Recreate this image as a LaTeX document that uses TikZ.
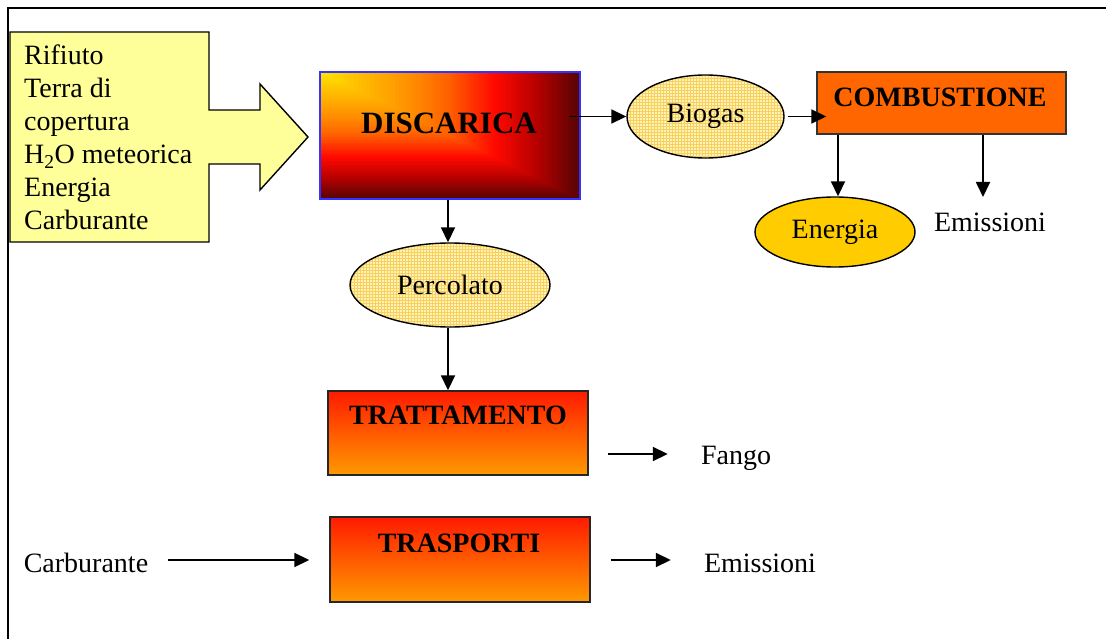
\documentclass[tikz,border=0pt]{standalone}
\usepackage{fontspec}
\setmainfont{Liberation Serif}
\usetikzlibrary{arrows.meta,patterns,calc,shapes.geometric}
\definecolor{ca}{HTML}{FFE800}
\definecolor{cb}{HTML}{FFCC00}
\definecolor{cc}{HTML}{FF9000}
\definecolor{cd}{HTML}{FF6000}
\definecolor{ce}{HTML}{FF0800}
\definecolor{cf}{HTML}{B00000}
\definecolor{cg}{HTML}{580404}
\definecolor{arrowyellow}{HTML}{FFFF99}
\definecolor{paleyellow}{HTML}{FFF3B8}
\definecolor{gridyellow}{HTML}{F8D060}
\definecolor{gold}{HTML}{FFCC00}
\definecolor{combo}{HTML}{FF6600}
\definecolor{gtop}{HTML}{FF1A00}
\definecolor{gbot}{HTML}{FF9A00}
\definecolor{discblue}{HTML}{3333FF}
\newcommand\discseg[4]{%
  \foreach \kk in {16,...,0}{%
    \pgfmathsetmacro\myt{#1+(#2-#1)*\kk/16}%
    \pgfmathtruncatemacro\myp{100*\kk/16}%
    \fill[#4!\myp!#3] (320,72) rectangle ({320+260*\myt},{72+127*\myt});
  }}
\begin{document}
\begin{tikzpicture}[x=1pt,y=-1pt,
  txt/.style={font=\fontsize{28}{33}\selectfont, inner sep=0pt},
  btxt/.style={font=\fontsize{28}{33}\selectfont\bfseries, inner sep=0pt},
  ell/.style={ellipse, draw=black, line width=1.4pt, inner sep=0pt, font=\fontsize{28}{33}\selectfont},
  patell/.style={ell, preaction={fill=paleyellow}, pattern=grid, pattern color=gridyellow},
  gradbox/.style={rectangle, draw=black!85, line width=1.4pt, top color=gtop, bottom color=gbot, inner sep=0pt},
  arr/.style={line width=1.8pt, -{Triangle[length=15pt,width=14pt]}},
]
\useasboundingbox (0,0) rectangle (1106,639);
\fill[white] (0,0) rectangle (1106,639);
% frame
\draw[line width=2.2pt] (8,639) -- (8,8) -- (1106,8);

% yellow input arrow
\draw[fill=arrowyellow, line width=1.4pt, line join=miter]
  (10,32) -- (209,32) -- (209,110) -- (260,110) -- (260,84) -- (308,137)
  -- (260,190) -- (260,164) -- (209,164) -- (209,242) -- (10,242) -- cycle;
\node[txt, anchor=base west] (l1) at (24,65) {Rifiuto};
\node[txt, anchor=base west] (l2) at (24,98) {Terra di};
\node[txt, anchor=base west] (l3) at (24,131) {copertura};
\node[txt, anchor=base west] (l4) at (24,164) {H\textsubscript{2}O meteorica};
\node[txt, anchor=base west] (l5) at (24,197) {Energia};
\node[txt, anchor=base west] (l6) at (24,230) {Carburante};

% DISCARICA (rectangular gradient from the top-left corner)
\discseg{0.85}{1.0}{cf}{cg}
\discseg{0.68}{0.85}{ce}{cf}
\discseg{0.5}{0.68}{cd}{ce}
\discseg{0.35}{0.5}{cc}{cd}
\discseg{0.1}{0.35}{cb}{cc}
\discseg{0.0}{0.1}{ca}{cb}
\node[rectangle, draw=discblue, line width=1.6pt, minimum width=260pt, minimum height=127pt, inner sep=0pt] (disc) at (450,135.5) {};
\node[font=\fontsize{31}{36}\selectfont\bfseries, inner sep=0pt] (disct) at (449,123) {DISCARICA};

% Biogas
\node[patell, minimum width=157pt, minimum height=83pt] (bio) at (705.5,116.5) {Biogas};

% COMBUSTIONE
\node[rectangle, fill=combo, draw=black!80, line width=1.4pt, minimum width=249pt, minimum height=62pt, inner sep=0pt] (comb) at (941.5,103) {};
\node[btxt] (combt) at (940,97) {COMBUSTIONE};

% Energia
\node[ell, fill=gold, minimum width=160pt, minimum height=70pt] (ene) at (835,232) {Energia};
\node[txt] (emi1) at (990,222) {Emissioni};
\coordinate (emitip) at (983,197);

% Percolato
\node[patell, minimum width=200pt, minimum height=84pt] (perc) at (450,285) {Percolato};

% TRATTAMENTO
\node[gradbox, minimum width=260pt, minimum height=84pt] (tratt) at (458,433) {};
\node[btxt] (trattt) at (458,415) {TRATTAMENTO};
\node[txt] (fango) at (736,458) {Fango};

% TRASPORTI
\node[gradbox, minimum width=260pt, minimum height=85pt] (trasp) at (460,559.5) {};
\node[btxt] (traspt) at (459,543) {TRASPORTI};
\node[txt] (carb) at (86,563) {Carburante};
\node[txt] (emi2) at (760,563) {Emissioni};

% connectors
\draw[arr] ([xshift=-12pt]disc.east |- bio.west) -- (bio.west);
\draw[arr] ([xshift=3pt]bio.east) -- ([xshift=10pt]comb.west |- bio.east);
\draw[arr] ([xshift=3pt]ene.north |- comb.south) -- ([xshift=3pt]ene.north);
\draw[arr] (emitip |- comb.south) -- (emitip);
\draw[arr] ([xshift=-2pt]perc.north |- disc.south) -- ([xshift=-2pt]perc.north);
\draw[arr] ([xshift=-2pt]perc.south) -- ([xshift=-2pt]perc.south |- tratt.north);
\draw[arr] ([xshift=19pt]tratt.east |- 0,454) -- ([xshift=-33pt]fango.west |- 0,454);
\draw[arr] ([xshift=20pt]carb.east |- 0,560) -- ([xshift=-20pt]trasp.west |- 0,560);
\draw[arr] ([xshift=20pt]trasp.east |- 0,560) -- ([xshift=-33pt]emi2.west |- 0,560);
\end{tikzpicture}
\end{document}
